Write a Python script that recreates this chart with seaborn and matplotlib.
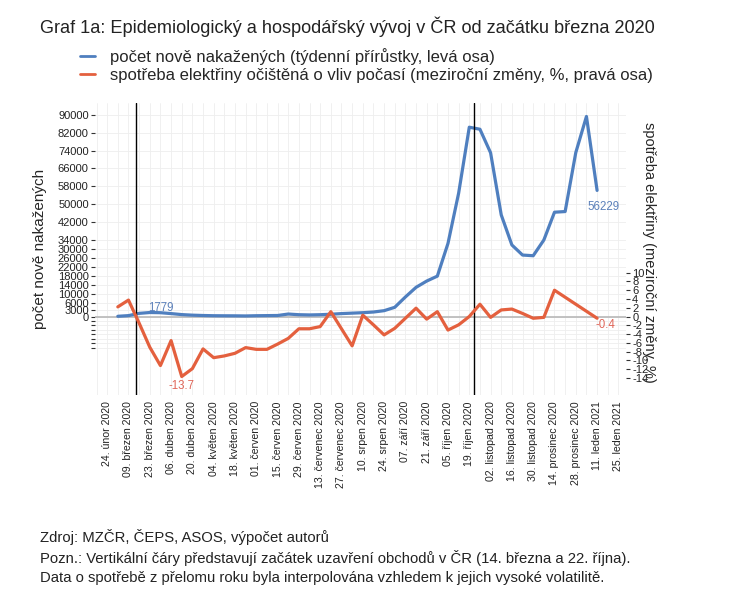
import pandas as pd
import numpy as np
import matplotlib
matplotlib.use('Agg')
import matplotlib.pyplot as plt
from matplotlib.lines import Line2D
import seaborn as sns

# weekly data (Monday of the week)
dates = pd.date_range('2020-03-02', periods=46, freq='7D')
cases = [100, 400, 1400, 1779, 1700, 1300, 850, 600, 450, 350,
         320, 300, 250, 350, 400, 450, 1100, 800, 700, 800,
         1000, 1300, 1500, 1700, 2000, 2600, 4100, 8700, 13000, 15800,
         18000, 32600, 55000, 84400, 83500, 73000, 45300, 31900, 27400, 27100,
         34100, 46500, 46800, 73100, 89200, 56229]
electricity = [2.2, 3.75, -1.5, -7.0, -11.2, -5.5, -13.7, -11.9, -7.4, -9.4,
               -9.0, -8.4, -7.1, -7.5, -7.5, -6.3, -5.0, -2.8, -2.8, -2.3,
               1.1, -2.8, -6.7, 0.3, -1.9, -4.2, -2.7, -0.4, 1.9, -0.6,
               1.1, -3.1, -1.9, 0.0, 2.8, -0.2, 1.5, 1.7, 0.7, -0.4,
               -0.2, 6.0, 4.4, 2.8, 1.2, -0.4]

tick_dates = pd.date_range('2020-02-24', '2021-01-25', freq='14D')
tick_labels = ['24. únor 2020', '09. březen 2020', '23. březen 2020', '06. duben 2020',
               '20. duben 2020', '04. květen 2020', '18. květen 2020', '01. červen 2020',
               '15. červen 2020', '29. červen 2020', '13. červenec 2020', '27. červenec 2020',
               '10. srpen 2020', '24. srpen 2020', '07. září 2020', '21. září 2020',
               '05. říjen 2020', '19. říjen 2020', '02. listopad 2020', '16. listopad 2020',
               '30. listopad 2020', '14. prosinec 2020', '28. prosinec 2020', '11. leden 2021',
               '25. leden 2021']
lockdowns = ['2020-03-14', '2020-10-22']

left_ticks = [0, 3000, 6000, 10000, 14000, 18000, 22000, 26000, 30000, 34000,
              42000, 50000, 58000, 66000, 74000, 82000, 90000]
left_neg_ticks = [-2000, -4000, -6000, -8000, -10000, -12000, -14000]
right_ticks = list(range(-14, 11, 2))

df = pd.DataFrame({'datum': dates, 'nakazeni': cases, 'elektrina': electricity})

blue = '#4F7FBF'
red = '#E4603E'

sns.set_style('white')
plt.rcParams['font.family'] = ['Liberation Sans', 'DejaVu Sans']

fig = plt.figure(figsize=(7.34, 6.05), dpi=100)
ax = fig.add_axes([95/734, 1 - 395/605, 531/734, 292/605])
ax2 = ax.twinx()

ylo, yhi = -35000, 95200
scale = 1953.0
ax.set_ylim(ylo, yhi)
ax2.set_ylim(ylo/scale, yhi/scale)
ax.set_xlim(pd.Timestamp('2020-02-16'), pd.Timestamp('2021-01-30'))

# grid
for d in pd.date_range('2020-02-17', '2021-01-25', freq='7D'):
    ax.axvline(d, color='#EEEEEE', lw=0.6, zorder=0)
for t in left_ticks + left_neg_ticks:
    ax.axhline(t, color='#EEEEEE', lw=0.6, zorder=0)
ax.axhline(0, color='#BDBDBD', lw=1.3, zorder=1)

sns.lineplot(data=df, x='datum', y='nakazeni', ax=ax, color=blue, lw=2.3, legend=False, zorder=3)
sns.lineplot(data=df, x='datum', y='elektrina', ax=ax2, color=red, lw=2.3, legend=False, zorder=3)

for d in lockdowns:
    ax.axvline(pd.Timestamp(d), color='black', lw=1, zorder=4)

ax.set_xticks(tick_dates)
ax.set_xticklabels(tick_labels, rotation=90, fontsize=7.6)
ax.set_yticks(left_ticks + left_neg_ticks)
ax.set_yticklabels([str(t) for t in left_ticks] + [''] * len(left_neg_ticks), fontsize=8)
ax2.set_yticks(right_ticks)
ax2.set_yticklabels([str(t) for t in right_ticks], fontsize=8)
ax.tick_params(axis='both', length=3, width=0.8, color='#333333', pad=1.5, labelcolor='#222222')
ax2.tick_params(axis='y', length=3, width=0.8, color='#333333', pad=1.5, labelcolor='#222222')

for a in (ax, ax2):
    for s in a.spines.values():
        s.set_visible(False)

ax.set_xlabel('')
ax.set_ylabel('počet nově nakažených', fontsize=11)
ax.yaxis.set_label_coords(-0.09, 0.5)
ax2.set_ylabel('spotřeba elektřiny (meziroční změny, %)', fontsize=10.5, rotation=270)
ax2.yaxis.set_label_coords(1.057, 0.49)

# value labels
ax.annotate('1779', (dates[3], cases[3]), xytext=(8, 3.5), textcoords='offset points',
            ha='center', va='center', color='#5B80BA', fontsize=8.3)
ax.annotate('56229', (dates[-1], cases[-1]), xytext=(5, -12), textcoords='offset points',
            ha='center', va='center', color='#5B80BA', fontsize=8.3)
ax2.annotate('-13.7', (dates[6], electricity[6]), xytext=(0, -7), textcoords='offset points',
             ha='center', va='center', color='#E0675A', fontsize=8.3)
ax2.annotate('-0.4', (dates[-1], electricity[-1]), xytext=(6, -4.5), textcoords='offset points',
             ha='center', va='center', color='#E0675A', fontsize=8.3)

fig.text(40/734, 1 - 27/605, 'Graf 1a: Epidemiologický a hospodářský vývoj v ČR od začátku března 2020',
         fontsize=13.1, va='center', ha='left', color='#222222')

handles = [Line2D([], [], color=blue, lw=2),
           Line2D([], [], color=red, lw=2)]
fig.legend(handles, ['počet nově nakažených (týdenní přírůstky, levá osa)',
                     'spotřeba elektřiny očištěná o vliv počasí (meziroční změny, %, pravá osa)'],
           loc='upper left', bbox_to_anchor=(80/734, 1 - 48/605), frameon=False,
           fontsize=12, handlelength=0.9, handletextpad=0.9, labelspacing=0.2,
           borderaxespad=0, borderpad=0)

notes = ['Zdroj: MZČR, ČEPS, ASOS, výpočet autorů',
         'Pozn.: Vertikální čáry představují začátek uzavření obchodů v ČR (14. března a 22. října).',
         'Data o spotřebě z přelomu roku byla interpolována vzhledem k jejich vysoké volatilitě.']
for i, n in enumerate(notes):
    fig.text(40/734, 1 - (537 + 20.5*i)/605, n, fontsize=10.7, va='center', ha='left', color='#222222')

fig.savefig('out.png', dpi=100)
